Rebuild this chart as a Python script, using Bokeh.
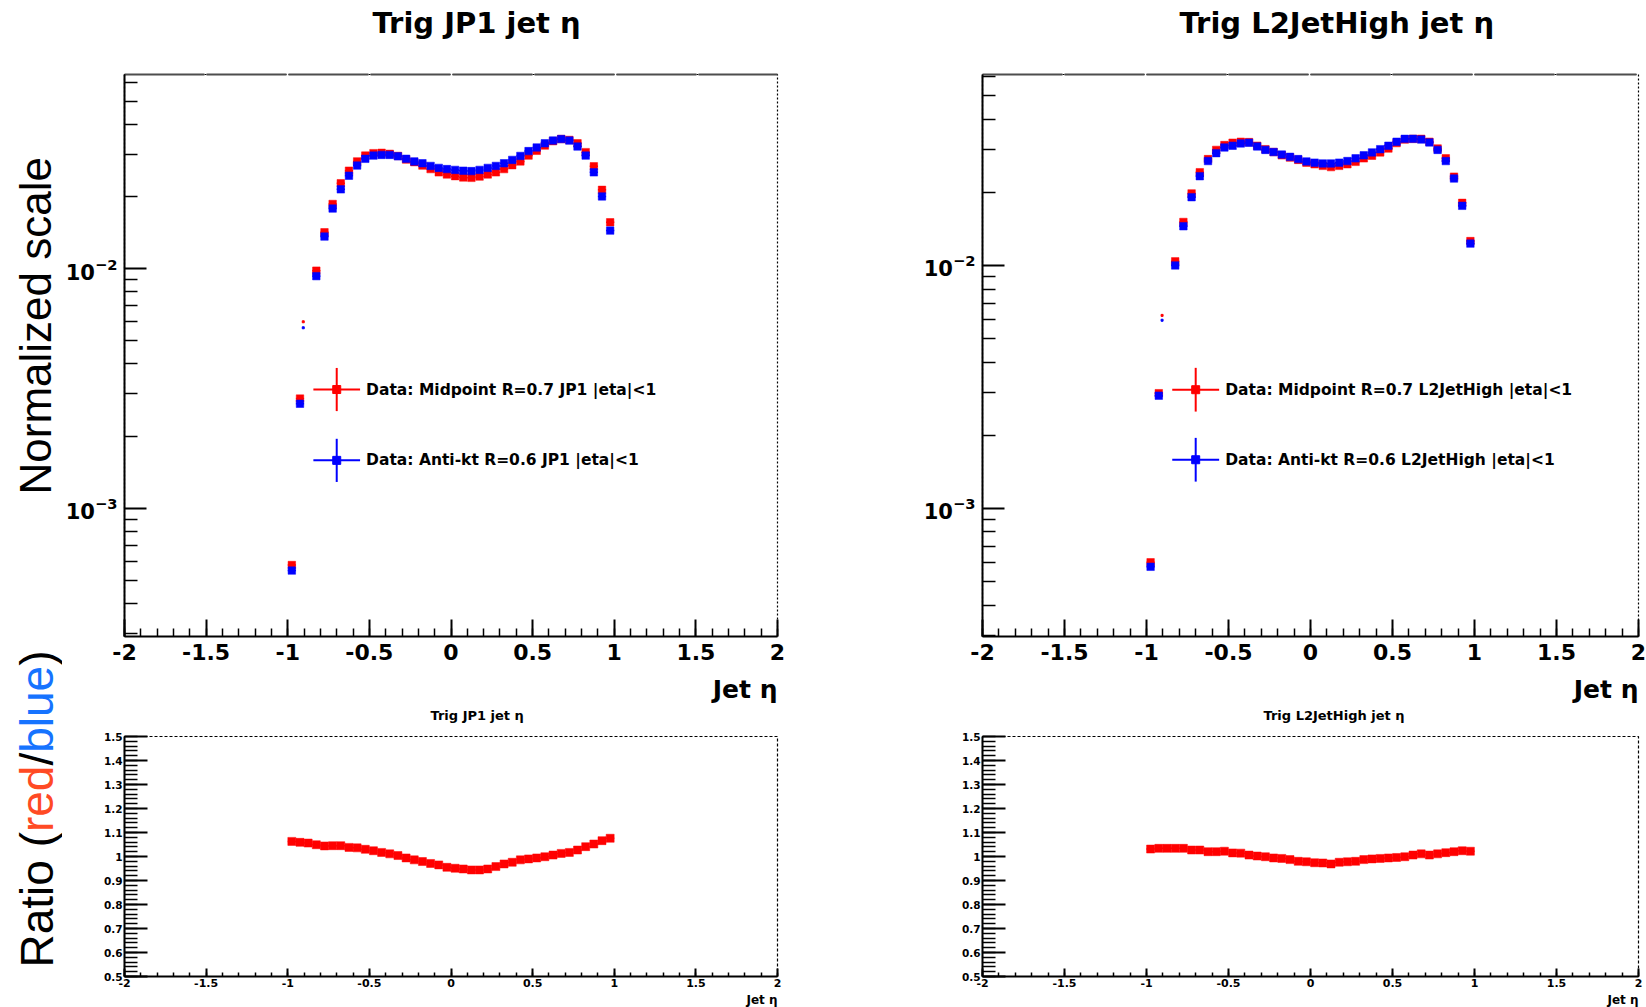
import math
from bokeh.plotting import figure
from bokeh.layouts import row, column
from bokeh.models import (Range1d, FixedTicker, NumeralTickFormatter, LogTickFormatter,
                          LinearAxis, Title, ColumnDataSource)
from bokeh.core.properties import value
from bokeh.embed import file_html
from bokeh.resources import INLINE

# ---------------- data ----------------
# jet eta bin centres (bin width 0.05); the -0.875 bin is shown only as a tiny dot in the upper panels
eta_top = [-0.975, -0.925, -0.825, -0.775, -0.725, -0.675, -0.625, -0.575, -0.525, -0.475,
           -0.425, -0.375, -0.325, -0.275, -0.225, -0.175, -0.125, -0.075, -0.025, 0.025,
           0.075, 0.125, 0.175, 0.225, 0.275, 0.325, 0.375, 0.425, 0.475, 0.525,
           0.575, 0.625, 0.675, 0.725, 0.775, 0.825, 0.875, 0.925, 0.975]
eta_ratio = [-0.975, -0.925, -0.875, -0.825, -0.775, -0.725, -0.675, -0.625, -0.575, -0.525,
             -0.475, -0.425, -0.375, -0.325, -0.275, -0.225, -0.175, -0.125, -0.075, -0.025,
             0.025, 0.075, 0.125, 0.175, 0.225, 0.275, 0.325, 0.375, 0.425, 0.475,
             0.525, 0.575, 0.625, 0.675, 0.725, 0.775, 0.825, 0.875, 0.925, 0.975]
eta_dot = [-0.905]

# Trig JP1 : Midpoint R=0.7 (red) and Anti-kt R=0.6 (blue)
jp1_midpoint = [0.00058, 0.00287, 0.0098, 0.01417, 0.0186, 0.0227, 0.0256, 0.0280, 0.0296, 0.0303,
                0.0304, 0.0301, 0.0295, 0.0285, 0.0278, 0.0269, 0.0260, 0.0252, 0.0247, 0.0243,
                0.0240, 0.0239, 0.0242, 0.0247, 0.0252, 0.0260, 0.0270, 0.0280, 0.0296, 0.0310,
                0.0326, 0.0340, 0.0347, 0.0344, 0.0333, 0.0306, 0.0267, 0.0213, 0.0156]
jp1_antikt = [0.00055, 0.00273, 0.0093, 0.0136, 0.0178, 0.0214, 0.0244, 0.0269, 0.0287, 0.0296,
              0.0298, 0.0298, 0.0294, 0.0287, 0.0280, 0.0275, 0.0268, 0.0263, 0.0260, 0.0258,
              0.0256, 0.0255, 0.0258, 0.0263, 0.0268, 0.0275, 0.0284, 0.0295, 0.0309, 0.0320,
              0.0333, 0.0342, 0.0347, 0.0342, 0.0323, 0.0296, 0.0252, 0.0200, 0.0144]
jp1_dot_midpoint = [0.0060]
jp1_dot_antikt = [0.00575]
jp1_ratio = [1.063, 1.059, 1.056, 1.049, 1.044, 1.045, 1.045, 1.038, 1.036, 1.030,
             1.024, 1.017, 1.011, 1.004, 0.994, 0.986, 0.979, 0.971, 0.965, 0.955,
             0.951, 0.948, 0.944, 0.944, 0.948, 0.958, 0.969, 0.976, 0.986, 0.990,
             0.994, 0.999, 1.006, 1.013, 1.017, 1.027, 1.041, 1.052, 1.066, 1.076]

# Trig L2JetHigh
l2_midpoint = [0.00060, 0.00298, 0.0104, 0.0151, 0.0198, 0.0242, 0.0274, 0.0299, 0.0313, 0.0320,
               0.0323, 0.0322, 0.0311, 0.0301, 0.0293, 0.0284, 0.0278, 0.0272, 0.0265, 0.0261,
               0.0257, 0.0254, 0.0257, 0.0261, 0.0267, 0.0276, 0.0283, 0.0292, 0.0303, 0.0319,
               0.0330, 0.0332, 0.0332, 0.0323, 0.0303, 0.0276, 0.0232, 0.0181, 0.0126]
l2_antikt = [0.000575, 0.00291, 0.0100, 0.0145, 0.0191, 0.0233, 0.0269, 0.0290, 0.0306, 0.0311,
             0.0318, 0.0320, 0.0309, 0.0299, 0.0293, 0.0286, 0.0280, 0.0274, 0.0268, 0.0265,
             0.0263, 0.0263, 0.0265, 0.0269, 0.0276, 0.0284, 0.0292, 0.0301, 0.0311, 0.0323,
             0.0332, 0.0332, 0.0330, 0.0321, 0.0299, 0.0269, 0.0228, 0.0176, 0.0123]
l2_dot_midpoint = [0.00623]
l2_dot_antikt = [0.00604]
l2_ratio = [1.031, 1.034, 1.034, 1.034, 1.034, 1.027, 1.027, 1.020, 1.020, 1.022,
            1.015, 1.014, 1.006, 1.002, 0.999, 0.994, 0.992, 0.987, 0.980, 0.978,
            0.974, 0.973, 0.969, 0.976, 0.978, 0.980, 0.987, 0.990, 0.992, 0.994,
            0.996, 0.999, 1.006, 1.011, 1.006, 1.011, 1.016, 1.020, 1.024, 1.022]

x_major = [-2, -1.5, -1, -0.5, 0, 0.5, 1, 1.5, 2]
x_minor = [round(-2 + 0.1 * i, 1) for i in range(41)]
ratio_major = [0.5, 0.6, 0.7, 0.8, 0.9, 1.0, 1.1, 1.2, 1.3, 1.4, 1.5]
ratio_minor = [round(0.5 + 0.02 * i, 2) for i in range(51)]
log_major = [1e-3, 1e-2]
log_minor = [m * 1e-4 for m in range(3, 10)] + [m * 1e-3 for m in range(2, 10)] + [m * 1e-2 for m in range(2, 7)]

RED = "#ff0000"
BLUE = "#0000ff"
ROOT_FONT = "DejaVu Sans"
HALF_BIN = 0.025


def spacer(p, side, size):
    # empty title used only to reserve vertical space between an axis and a title
    p.add_layout(Title(text=" ", text_font_size="1px", standoff=max(size - 3.2, 0)), side)


def add_points(p, xs, ys, color, size=7.5):
    src = ColumnDataSource(dict(x=xs, y=ys,
                                x0=[x - HALF_BIN for x in xs], x1=[x + HALF_BIN for x in xs]))
    p.segment(x0="x0", y0="y", x1="x1", y1="y", source=src, line_color=color, line_width=1.5)
    p.scatter(x="x", y="y", source=src, marker="square", size=size,
              fill_color=color, line_color=color, line_width=0.5)


def style_x(ax, tick_in, minor_in, font_size, standoff):
    ax.ticker = FixedTicker(ticks=x_major, minor_ticks=x_minor)
    ax.formatter = NumeralTickFormatter(format="0.[0]")
    ax.major_tick_in = tick_in
    ax.major_tick_out = 0
    ax.minor_tick_in = minor_in
    ax.minor_tick_out = 0
    ax.axis_line_width = 2
    ax.major_tick_line_width = 2
    ax.minor_tick_line_width = 1.5
    ax.major_label_text_font = ROOT_FONT
    ax.major_label_text_font_style = "bold"
    ax.major_label_text_font_size = font_size
    ax.major_label_text_color = "black"
    ax.major_label_standoff = standoff


def style_title(t, size, offset):
    t.text_font = ROOT_FONT
    t.text_font_style = "bold"
    t.text_font_size = size
    t.text_color = "black"
    t.align = "left"
    t.offset = offset
    t.standoff = 0


def top_panel(title, title_offset, xs, red, blue, dx, dred, dblue, yrange, leg_x, leg_y, labels,
              left_border, right_border, width):
    p = figure(width=width, height=705, x_range=Range1d(-2, 2), y_range=Range1d(*yrange),
               y_axis_type="log", output_backend="svg", toolbar_location=None,
               min_border_left=left_border, min_border_right=right_border,
               min_border_top=74, min_border_bottom=69, title=title)
    style_title(p.title, "29px", title_offset)
    p.xgrid.visible = False
    p.ygrid.visible = False
    p.outline_line_color = "black"
    p.outline_line_dash = "2 2"
    p.outline_line_width = 1.2
    p.background_fill_color = "white"
    p.border_fill_color = "white"

    style_x(p.xaxis[0], 17, 8, "22px", 7)
    ya = p.yaxis[0]
    ya.ticker = FixedTicker(ticks=log_major, minor_ticks=log_minor)
    ya.formatter = LogTickFormatter()
    ya.major_tick_in = 22
    ya.major_tick_out = 0
    ya.minor_tick_in = 13
    ya.minor_tick_out = 0
    ya.axis_line_width = 2
    ya.major_tick_line_width = 2
    ya.minor_tick_line_width = 1.5
    ya.major_label_text_font = ROOT_FONT
    ya.major_label_text_font_style = "bold"
    ya.major_label_text_font_size = "21px"
    ya.major_label_text_color = "black"
    ya.major_label_standoff = 7

    top = LinearAxis(ticker=FixedTicker(ticks=[]), major_label_text_font_size="0px",
                     axis_line_color="#4d4d4d", axis_line_width=2, axis_line_dash="80 2",
                     major_tick_line_color=None, minor_tick_line_color=None)
    p.add_layout(top, "above")
    spacer(p, "above", 35)

    spacer(p, "below", 10)
    p.add_layout(Title(text="Jet η", align="right", text_font=ROOT_FONT, text_font_style="bold",
                       text_font_size="25px", text_color="black", standoff=0), "below")

    add_points(p, xs, red, RED)
    add_points(p, xs, blue, BLUE)
    p.scatter(x=dx, y=dred, marker="square", size=2, color=RED)
    p.scatter(x=dx, y=[v * 0.985 for v in dblue], marker="square", size=2, color=BLUE)

    # legend (ROOT style error-bar crosses)
    for yc, col, lab in zip(leg_y, [RED, BLUE], labels):
        p.segment(x0=[leg_x - 0.143], x1=[leg_x + 0.143], y0=[yc], y1=[yc], line_color=col, line_width=2)
        p.segment(x0=[leg_x], x1=[leg_x], y0=[yc * 10 ** -0.09], y1=[yc * 10 ** 0.09],
                  line_color=col, line_width=2)
        p.scatter(x=[leg_x], y=[yc], marker="square", size=8, color=col)
        p.text(x=[-0.52], y=[yc], text=[lab], text_font=value(ROOT_FONT), text_font_style="bold",
               text_font_size="15.5px", text_baseline="middle", text_align="left", text_color="black")
    return p


def ratio_panel(title, title_offset, ratio, left_border, right_border, width):
    p = figure(width=width, height=302, x_range=Range1d(-2, 2), y_range=Range1d(0.5, 1.5),
               output_backend="svg", toolbar_location=None,
               min_border_left=left_border, min_border_right=right_border,
               min_border_top=31, min_border_bottom=31, title=title)
    style_title(p.title, "13px", title_offset)
    spacer(p, "above", 14)
    p.xgrid.visible = False
    p.ygrid.visible = False
    p.outline_line_color = "black"
    p.outline_line_dash = "3 2"
    p.outline_line_width = 1.2

    style_x(p.xaxis[0], 8, 4, "11px", 2)
    ya = p.yaxis[0]
    ya.ticker = FixedTicker(ticks=ratio_major, minor_ticks=ratio_minor)
    ya.formatter = NumeralTickFormatter(format="0.[0]")
    ya.major_tick_in = 23
    ya.major_tick_out = 0
    ya.minor_tick_in = 13
    ya.minor_tick_out = 0
    ya.axis_line_width = 2
    ya.major_tick_line_width = 2
    ya.minor_tick_line_width = 1.5
    ya.major_label_text_font = ROOT_FONT
    ya.major_label_text_font_style = "bold"
    ya.major_label_text_font_size = "10.5px"
    ya.major_label_text_color = "black"
    ya.major_label_standoff = 2

    p.add_layout(Title(text="Jet η", align="right", text_font=ROOT_FONT, text_font_style="bold",
                       text_font_size="12px", text_color="black", standoff=2), "below")
    add_points(p, eta_ratio, ratio, RED, size=8)
    return p


p1 = top_panel("Trig JP1 jet η", 248, eta_top, jp1_midpoint, jp1_antikt, eta_dot, jp1_dot_midpoint,
               jp1_dot_antikt, (2.92e-4, 0.0645), -0.70, [3.13e-3, 1.585e-3],
               ["Data: Midpoint R=0.7 JP1 |eta|<1", "Data: Anti-kt R=0.6 JP1 |eta|<1"],
               58, 100, 815)
p3 = ratio_panel("Trig JP1 jet η", 306, jp1_ratio, 58, 100, 815)
p2 = top_panel("Trig L2JetHigh jet η", 197, eta_top, l2_midpoint, l2_antikt, eta_dot, l2_dot_midpoint,
               l2_dot_antikt, (2.97e-4, 0.0611), -0.70, [3.08e-3, 1.586e-3],
               ["Data: Midpoint R=0.7 L2JetHigh |eta|<1", "Data: Anti-kt R=0.6 L2JetHigh |eta|<1"],
               105, 8, 769)
p4 = ratio_panel("Trig L2JetHigh jet η", 281, l2_ratio, 105, 8, 769)

# ---------------- big rotated side labels ----------------
W0 = 62
H = 1007
lf = figure(width=W0, height=H, x_range=Range1d(0, W0), y_range=Range1d(0, H),
            x_axis_type=None, y_axis_type=None, output_backend="svg", toolbar_location=None,
            min_border=0)
lf.outline_line_color = None
lf.grid.visible = False

ARIAL_W = {"R": 0.722, "a": 0.556, "t": 0.278, "i": 0.222, "o": 0.556, " ": 0.278, "(": 0.333,
           "r": 0.333, "e": 0.556, "d": 0.556, "/": 0.278, "b": 0.556, "l": 0.222, "u": 0.556,
           ")": 0.333}

lf.text(x=[34.5], y=[H - 494], text=["Normalized scale"], angle=math.pi / 2, text_align="left",
        text_baseline="middle", text_font=value("Liberation Sans"), text_font_size="44px",
        text_color="black")

pieces = [("Ratio (", "black"), ("red", "#ff4a24"), ("/", "black"), ("blue", "#1673ff"), (")", "black")]
fs = 46
ypos = H - 967
for txt, col in pieces:
    lf.text(x=[36], y=[ypos], text=[txt], angle=math.pi / 2, text_align="left",
            text_baseline="middle", text_font=value("Liberation Sans"),
            text_font_size=f"{fs}px", text_color=col)
    ypos += sum(ARIAL_W[c] for c in txt) * fs

layout = row(lf, column(p1, p3), column(p2, p4))
open("out.html", "w").write(file_html(layout, INLINE, title="Jet eta"))
